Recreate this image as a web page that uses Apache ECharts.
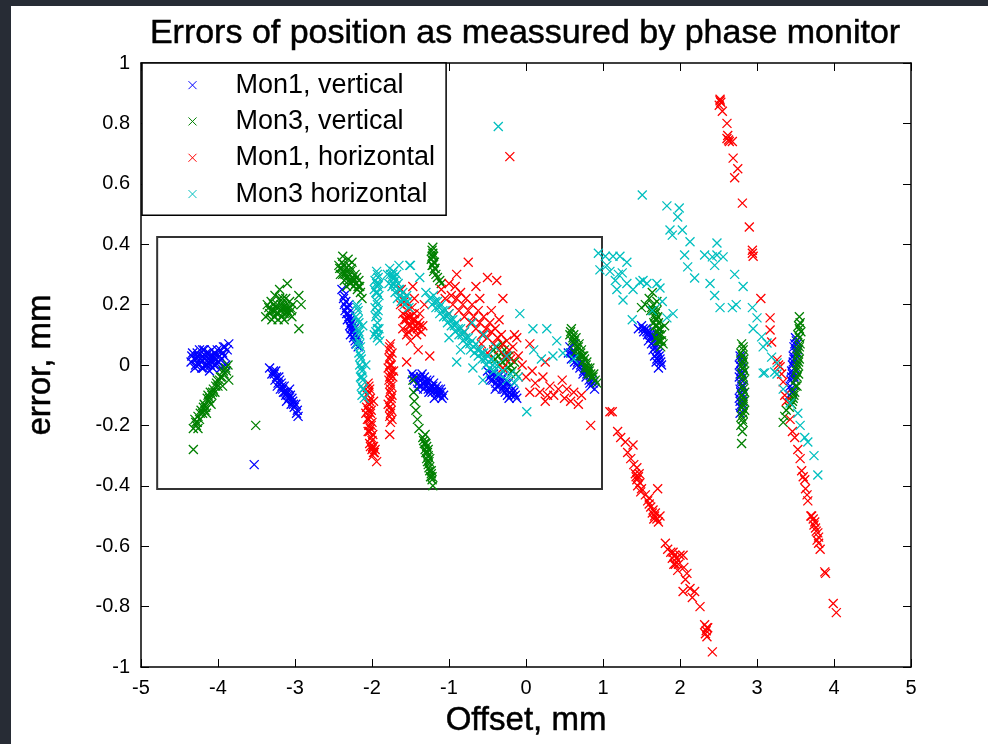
<!DOCTYPE html>
<html>
<head>
<meta charset="utf-8">
<script src="https://cdn.jsdelivr.net/npm/echarts@6/dist/echarts.min.js"></script>
<style>
html,body{margin:0;padding:0;background:#fff;}
#chart{width:988px;height:744px;}
</style>
</head>
<body>
<div id="chart"></div>
<script>
const titleText = 'Errors of position as meassured by phase monitor';
const xLabel = 'Offset, mm';
const yLabel = 'error, mm';
const seriesNames = ['Mon1, vertical', 'Mon3, vertical', 'Mon1, horizontal', 'Mon3 horizontal'];
const seriesColors = ['#0000ff', '#008000', '#ff0000', '#00bfbf'];
const xRange = [-5, 5];
const yRange = [-1, 1];
const insetBox = [[-4.79, 0.424], [0.987, -0.411]];

const mon1Vertical = [
[-4.35,0.01],[-4.33,0.04],[-4.3,-0.01],[-4.28,0.02],[-4.26,0.03],[-4.25,0.0],[-4.22,0.01],[-4.2,0.03],[-4.19,-0.01],[-4.17,0.02],[-4.15,0.04],[-4.14,0.0],[-4.12,0.02],[-4.1,0.03],[-4.09,0.01],[-4.07,-0.01],[-4.05,0.02],[-4.04,0.04],[-4.02,0.03],[-4.0,0.01],[-3.98,0.03],[-3.97,0.05],[-3.95,0.02],[-3.93,0.06],[-3.92,0.03],[-3.9,0.0],[-3.88,0.05],[-3.86,0.07],[-4.08,0.05],[-4.18,0.05],[-4.24,0.05],[-4.11,-0.02],[-4.03,0.0],[-3.96,-0.01],[-4.31,0.02],[-4.13,0.01],[-4.06,0.03],
[-4.34,0.03],[-4.29,0.0],[-4.27,0.04],[-4.23,0.02],[-4.21,-0.01],[-4.16,0.0],[-4.16,0.03],[-4.12,0.04],[-4.1,0.0],[-4.08,0.02],[-4.05,0.0],[-4.01,0.05],[-3.99,0.01],[-3.94,0.04],[-3.91,0.06],[-4.2,0.05],
[-3.33,-0.01],[-3.3,-0.03],[-3.28,-0.02],[-3.26,-0.05],[-3.24,-0.04],[-3.22,-0.06],[-3.2,-0.05],[-3.19,-0.08],[-3.17,-0.07],[-3.15,-0.09],[-3.14,-0.07],[-3.12,-0.1],[-3.1,-0.09],[-3.08,-0.11],[-3.06,-0.1],[-3.05,-0.13],[-3.03,-0.12],[-3.01,-0.14],[-2.99,-0.13],[-2.97,-0.15],[-2.96,-0.17],[-3.18,-0.06],[-3.11,-0.12],[-3.23,-0.07],[-3.07,-0.08],
[-3.27,-0.03],[-3.21,-0.04],[-3.16,-0.08],[-3.13,-0.09],[-3.09,-0.1],[-3.04,-0.11],[-3.02,-0.13],[-2.98,-0.16],[-3.25,-0.02],
[-3.53,-0.33],
[-2.39,0.25],[-2.37,0.22],[-2.36,0.2],[-2.34,0.21],[-2.35,0.18],[-2.33,0.17],[-2.31,0.19],[-2.32,0.15],[-2.3,0.16],[-2.29,0.13],[-2.28,0.15],[-2.27,0.12],[-2.26,0.14],[-2.25,0.11],[-2.24,0.09],[-2.23,0.12],[-2.22,0.08],[-2.21,0.1],[-2.2,0.07],[-2.19,0.09],[-2.18,0.06],[-2.28,0.1],
[-2.36,0.23],[-2.33,0.19],[-2.31,0.17],[-2.29,0.16],[-2.27,0.14],[-2.25,0.13],[-2.23,0.1],[-2.21,0.07],[-2.3,0.2],
[-1.48,-0.03],[-1.45,-0.05],[-1.42,-0.04],[-1.4,-0.06],[-1.38,-0.05],[-1.36,-0.07],[-1.34,-0.06],[-1.32,-0.04],[-1.3,-0.07],[-1.28,-0.06],[-1.27,-0.08],[-1.25,-0.05],[-1.23,-0.07],[-1.22,-0.09],[-1.2,-0.06],[-1.18,-0.08],[-1.16,-0.07],[-1.15,-0.1],[-1.13,-0.09],[-1.11,-0.08],[-1.09,-0.11],[-1.07,-0.1],[-1.19,-0.11],[-1.35,-0.03],[-1.26,-0.09],[-1.41,-0.08],
[-1.46,-0.04],[-1.39,-0.07],[-1.33,-0.08],[-1.29,-0.05],[-1.24,-0.08],[-1.21,-0.07],[-1.17,-0.09],[-1.14,-0.08],[-1.12,-0.1],[-1.1,-0.09],[-1.31,-0.06],[-1.37,-0.04],
[-0.5,-0.02],[-0.47,-0.04],[-0.45,-0.03],[-0.43,-0.05],[-0.41,-0.04],[-0.39,-0.06],[-0.37,-0.05],[-0.35,-0.07],[-0.33,-0.06],[-0.31,-0.08],[-0.29,-0.07],[-0.27,-0.09],[-0.25,-0.08],[-0.23,-0.06],[-0.21,-0.09],[-0.19,-0.1],[-0.17,-0.08],[-0.14,-0.1],[-0.12,-0.11],[-0.4,-0.08],[-0.3,-0.04],[-0.22,-0.11],
[-0.46,-0.05],[-0.42,-0.03],[-0.38,-0.07],[-0.36,-0.04],[-0.32,-0.05],[-0.28,-0.08],[-0.26,-0.06],[-0.24,-0.1],[-0.2,-0.07],[-0.16,-0.09],
[0.55,0.04],[0.57,0.06],[0.59,0.02],[0.61,0.04],[0.63,0.01],[0.65,0.03],[0.66,0.0],[0.68,0.02],[0.7,-0.01],[0.72,0.01],[0.74,-0.03],[0.76,-0.01],[0.78,-0.04],[0.8,-0.02],[0.82,-0.05],[0.84,-0.07],[0.87,-0.06],[0.89,-0.08],[0.62,0.07],
[0.58,0.04],[0.64,0.03],[0.67,0.01],[0.71,0.0],[0.75,-0.02],[0.79,-0.03],[0.83,-0.06],[0.86,-0.05],
[1.46,0.12],[1.5,0.13],[1.53,0.11],[1.56,0.12],[1.58,0.1],[1.6,0.11],[1.62,0.09],[1.64,0.1],[1.63,0.07],[1.66,0.08],[1.68,0.06],[1.65,0.05],[1.7,0.07],[1.67,0.03],[1.72,0.04],[1.69,0.01],[1.74,0.02],[1.76,0.0],[1.59,0.08],[1.71,0.1],
[1.52,0.12],[1.57,0.11],[1.61,0.1],[1.65,0.09],[1.67,0.07],[1.7,0.05],[1.73,0.03],[1.7,0.02],[1.75,0.01],[1.72,-0.01],
[2.78,0.03],[2.8,0.01],[2.77,0.0],[2.79,-0.02],[2.81,-0.03],[2.77,-0.04],[2.79,-0.06],[2.82,-0.07],[2.78,-0.08],[2.8,-0.1],[2.77,-0.11],[2.81,-0.12],[2.79,-0.14],[2.78,-0.16],[2.8,-0.05],
[2.79,0.02],[2.81,-0.01],[2.78,-0.03],[2.8,-0.07],[2.79,-0.09],[2.81,-0.1],[2.78,-0.12],[2.8,-0.13],
[3.5,0.09],[3.52,0.07],[3.48,0.06],[3.51,0.04],[3.47,0.03],[3.5,0.02],[3.46,0.0],[3.49,-0.01],[3.45,-0.02],[3.48,-0.04],[3.44,-0.05],[3.47,-0.06],[3.43,-0.07],[3.46,-0.09],[3.42,-0.1],[3.53,0.05],
[3.49,0.07],[3.5,0.05],[3.48,0.02],[3.47,0.01],[3.46,-0.03],[3.45,-0.04],[3.44,-0.08],[3.51,0.08]
];

const mon3Vertical = [
[-4.32,-0.21],[-4.3,-0.18],[-4.28,-0.2],[-4.26,-0.17],[-4.24,-0.18],[-4.22,-0.15],[-4.2,-0.16],[-4.18,-0.13],[-4.16,-0.14],[-4.14,-0.11],[-4.12,-0.12],[-4.1,-0.09],[-4.08,-0.1],[-4.06,-0.08],[-4.04,-0.09],[-4.02,-0.06],[-4.0,-0.07],[-3.98,-0.05],[-3.95,-0.04],[-3.92,-0.03],[-3.89,-0.02],[-3.87,0.0],[-3.86,-0.05],[-4.15,-0.16],[-4.26,-0.21],[-4.09,-0.13],[-3.94,-0.07],
[-4.29,-0.19],[-4.27,-0.19],[-4.23,-0.16],[-4.19,-0.14],[-4.17,-0.15],[-4.13,-0.1],[-4.11,-0.11],[-4.07,-0.09],[-4.03,-0.07],[-4.01,-0.05],[-3.97,-0.04],[-3.93,-0.02],[-3.9,-0.01],
[-4.32,-0.28],[-3.51,-0.2],
[-3.36,0.2],[-3.33,0.17],[-3.31,0.21],[-3.29,0.18],[-3.27,0.16],[-3.25,0.19],[-3.23,0.2],[-3.21,0.17],[-3.19,0.18],[-3.17,0.16],[-3.15,0.2],[-3.13,0.18],[-3.11,0.17],[-3.09,0.19],[-3.07,0.21],[-3.05,0.18],[-3.03,0.2],[-3.2,0.22],[-3.26,0.23],[-3.12,0.22],[-3.3,0.15],[-3.14,0.15],[-3.1,0.27],[-3.2,0.25],[-2.95,0.23],[-2.92,0.2],[-2.95,0.12],[-3.38,0.16],
[-3.34,0.19],[-3.32,0.18],[-3.28,0.2],[-3.26,0.18],[-3.24,0.17],[-3.22,0.19],[-3.18,0.2],[-3.16,0.19],[-3.14,0.17],[-3.12,0.19],[-3.1,0.18],[-3.08,0.17],[-3.06,0.19],[-3.04,0.16],[-3.22,0.15],[-3.16,0.22],
[-2.43,0.33],[-2.41,0.3],[-2.39,0.34],[-2.37,0.31],[-2.36,0.28],[-2.34,0.32],[-2.32,0.29],[-2.31,0.35],[-2.29,0.3],[-2.28,0.27],[-2.27,0.32],[-2.25,0.29],[-2.24,0.26],[-2.22,0.3],[-2.21,0.27],[-2.19,0.25],[-2.17,0.28],[-2.15,0.24],[-2.13,0.22],[-2.33,0.26],[-2.38,0.36],[-2.26,0.34],
[-2.42,0.32],[-2.4,0.32],[-2.38,0.3],[-2.36,0.33],[-2.35,0.3],[-2.33,0.31],[-2.3,0.28],[-2.28,0.31],[-2.26,0.28],[-2.23,0.28],[-2.2,0.29],[-2.18,0.26],[-2.16,0.26],[-2.3,0.33],
[-1.22,0.38],[-1.2,0.36],[-1.23,0.35],[-1.21,0.33],[-1.19,0.34],[-1.2,0.31],[-1.18,0.32],[-1.17,0.3],[-1.15,0.29],[-1.12,0.28],[-1.1,0.27],[-1.21,0.39],
[-1.22,0.36],[-1.21,0.37],[-1.2,0.34],[-1.19,0.32],[-1.22,0.33],
[-1.47,-0.05],[-1.46,-0.09],[-1.45,-0.12],[-1.43,-0.15],[-1.41,-0.18],[-1.39,-0.21],[-1.34,-0.24],[-1.31,-0.23],[-1.32,-0.26],[-1.29,-0.27],[-1.3,-0.29],[-1.27,-0.3],[-1.28,-0.32],[-1.25,-0.31],[-1.26,-0.34],[-1.23,-0.35],[-1.24,-0.37],[-1.22,-0.38],[-1.21,-0.4],[-1.27,-0.28],
[-1.33,-0.25],[-1.3,-0.26],[-1.31,-0.28],[-1.28,-0.29],[-1.29,-0.31],[-1.26,-0.32],[-1.27,-0.33],[-1.25,-0.35],[-1.23,-0.36],[-1.22,-0.37],
[-0.42,0.05],[-0.4,0.02],[-0.38,0.06],[-0.36,0.03],[-0.34,0.0],[-0.32,0.04],[-0.3,0.01],[-0.28,0.05],[-0.26,0.02],[-0.24,-0.01],[-0.22,0.03],[-0.2,0.0],[-0.18,-0.02],[-0.15,0.01],[-0.13,-0.03],[-0.31,0.07],
[0.57,0.1],[0.59,0.12],[0.6,0.08],[0.62,0.1],[0.64,0.07],[0.65,0.09],[0.67,0.05],[0.69,0.07],[0.7,0.03],[0.72,0.05],[0.74,0.01],[0.75,0.03],[0.77,-0.01],[0.79,0.01],[0.81,-0.03],[0.83,-0.01],[0.85,-0.04],[0.88,-0.03],[0.9,-0.05],[0.92,-0.06],[0.63,0.04],
[0.58,0.11],[0.61,0.09],[0.63,0.08],[0.66,0.06],[0.68,0.06],[0.71,0.04],[0.73,0.03],[0.76,0.02],[0.78,0.0],[0.8,-0.01],[0.82,-0.02],[0.84,-0.03],[0.87,-0.04],
[1.5,0.19],[1.55,0.2],[1.6,0.22],[1.62,0.18],[1.65,0.2],[1.67,0.16],[1.7,0.18],[1.72,0.14],[1.68,0.13],[1.71,0.11],[1.74,0.12],[1.69,0.09],[1.73,0.08],[1.76,0.1],[1.75,0.06],[1.78,0.07],[1.66,0.14],[1.64,0.24],[1.8,0.13],[1.7,0.21],
[1.63,0.19],[1.66,0.18],[1.68,0.17],[1.69,0.15],[1.71,0.16],[1.7,0.13],[1.72,0.12],[1.73,0.1],[1.74,0.08],[1.71,0.08],[1.76,0.08],
[2.8,0.07],[2.82,0.05],[2.79,0.04],[2.83,0.02],[2.81,0.0],[2.84,-0.02],[2.8,-0.03],[2.83,-0.05],[2.81,-0.07],[2.84,-0.09],[2.8,-0.1],[2.83,-0.12],[2.81,-0.14],[2.84,-0.15],[2.8,-0.17],[2.82,-0.19],[2.79,-0.2],[2.81,-0.22],[2.8,-0.26],
[2.82,0.06],[2.81,0.03],[2.82,0.01],[2.82,-0.01],[2.82,-0.04],[2.82,-0.08],[2.82,-0.11],[2.82,-0.13],[2.82,-0.16],[2.81,-0.18],
[3.55,0.16],[3.56,0.14],[3.54,0.13],[3.57,0.11],[3.55,0.09],[3.53,0.1],[3.56,0.07],[3.54,0.05],[3.52,0.03],[3.55,0.02],[3.53,0.0],[3.51,-0.02],[3.54,-0.03],[3.5,-0.05],[3.52,-0.07],[3.49,-0.09],[3.47,-0.11],[3.45,-0.13],[3.42,-0.14],[3.38,-0.15],[3.36,-0.17],[3.34,-0.19],
[3.55,0.12],[3.55,0.06],[3.53,0.04],[3.54,0.01],[3.52,-0.01],[3.52,-0.04],[3.5,-0.07],[3.48,-0.1],[3.46,-0.12]
];

const mon1Horizontal = [
[-2.05,-0.06],[-2.03,-0.08],[-2.06,-0.1],[-2.02,-0.11],[-2.04,-0.13],[-2.07,-0.14],[-2.01,-0.15],[-2.03,-0.17],[-2.06,-0.18],[-2.0,-0.19],[-2.02,-0.21],[-2.05,-0.22],[-1.99,-0.23],[-2.01,-0.24],[-2.03,-0.26],[-1.98,-0.27],[-2.0,-0.28],[-1.97,-0.29],[-1.99,-0.3],[-1.96,-0.28],[-2.08,-0.16],[-1.98,-0.12],[-2.04,-0.2],[-1.94,-0.32],
[-2.04,-0.07],[-2.04,-0.09],[-2.03,-0.12],[-2.05,-0.15],[-2.02,-0.16],[-2.04,-0.18],[-2.01,-0.2],[-2.03,-0.22],[-2.0,-0.25],[-2.02,-0.27],[-1.99,-0.27],[-1.98,-0.29],
[-1.76,0.07],[-1.78,0.05],[-1.74,0.04],[-1.77,0.02],[-1.75,0.0],[-1.79,-0.01],[-1.76,-0.03],[-1.73,-0.04],[-1.78,-0.05],[-1.75,-0.07],[-1.77,-0.09],[-1.74,-0.1],[-1.76,-0.12],[-1.79,-0.13],[-1.75,-0.15],[-1.77,-0.17],[-1.74,-0.18],[-1.76,-0.19],[-1.72,-0.02],[-1.77,-0.23],
[-1.77,0.06],[-1.76,0.03],[-1.77,0.0],[-1.75,-0.02],[-1.77,-0.04],[-1.76,-0.06],[-1.76,-0.08],[-1.75,-0.11],[-1.77,-0.14],[-1.76,-0.16],
[-1.63,0.2],[-1.6,0.17],[-1.58,0.21],[-1.56,0.15],[-1.54,0.18],[-1.52,0.13],[-1.5,0.16],[-1.48,0.19],[-1.46,0.12],[-1.44,0.15],[-1.42,0.1],[-1.4,0.14],[-1.38,0.17],[-1.36,0.11],[-1.34,0.13],[-1.55,0.1],[-1.6,0.12],[-1.5,0.08],[-1.45,0.22],[-1.62,0.25],[-1.4,0.05],[-1.25,0.03],[-1.55,0.01],[-1.47,0.26],[-1.32,0.2],
[-1.58,0.15],[-1.55,0.16],[-1.52,0.16],[-1.5,0.13],[-1.47,0.15],[-1.45,0.17],[-1.43,0.13],[-1.41,0.12],[-1.38,0.13],[-1.53,0.11],
[-1.1,0.25],[-1.05,0.22],[-1.0,0.27],[-0.97,0.23],[-0.95,0.2],[-0.92,0.26],[-0.9,0.22],[-0.87,0.18],[-0.85,0.24],[-0.82,0.2],[-0.8,0.16],[-0.78,0.22],[-0.75,0.18],[-0.72,0.14],[-0.7,0.2],[-0.68,0.16],[-0.65,0.12],[-0.62,0.18],[-0.6,0.14],[-0.57,0.1],[-0.55,0.16],[-0.52,0.12],[-0.5,0.09],[-0.47,0.14],[-0.45,0.11],[-0.42,0.07],[-0.4,0.12],[-0.37,0.09],[-0.35,0.05],[-0.32,0.1],[-0.3,0.07],[-0.27,0.03],[-0.25,0.08],[-0.22,0.05],[-0.2,0.02],[-0.17,0.06],[-0.6,0.22],[-0.45,0.18],[-0.35,0.15],[-0.5,0.04],[-0.3,-0.01],[-0.15,0.1],[-0.1,0.03],[-0.9,0.3],[-0.75,0.34],[-0.5,0.29],[-0.38,0.28],[-0.3,0.22],[-0.65,0.26],[-0.58,0.07],[-0.8,0.11],[-1.0,0.17],
[-0.05,0.0],[0.0,-0.04],[0.05,-0.09],[0.08,-0.02],[0.12,-0.06],[0.18,-0.09],[0.22,-0.04],[0.28,-0.1],[0.31,-0.07],[0.36,-0.1],[0.42,-0.08],[0.47,-0.05],[0.53,-0.08],[0.58,-0.12],[0.62,-0.09],[0.68,-0.13],[0.72,-0.1],[0.25,-0.12],[0.5,-0.11],[0.05,0.07],[0.25,0.01],[-0.12,0.09],
[-0.21,0.69],[1.09,-0.155],[0.84,-0.2],
[1.12,-0.155],[1.19,-0.22],[1.23,-0.24],[1.29,-0.255],[1.39,-0.265],[1.32,-0.29],[1.36,-0.31],[1.4,-0.33],[1.44,-0.34],[1.42,-0.36],[1.46,-0.37],[1.48,-0.39],[1.45,-0.4],[1.5,-0.41],[1.71,-0.41],[1.55,-0.43],[1.58,-0.45],[1.6,-0.44],[1.62,-0.47],[1.65,-0.48],[1.68,-0.49],[1.66,-0.51],[1.72,-0.52],[1.74,-0.5],[1.81,-0.59],[1.84,-0.61],[1.88,-0.62],[1.9,-0.64],[1.93,-0.63],[2.0,-0.63],[2.04,-0.63],[1.94,-0.66],[1.97,-0.68],[2.05,-0.67],[2.09,-0.69],[2.07,-0.71],[2.04,-0.75],[2.13,-0.74],[2.19,-0.75],[2.16,-0.77],[2.26,-0.8],[2.32,-0.86],[2.34,-0.88],[2.36,-0.87],[2.35,-0.9],[2.42,-0.95],
[1.43,-0.37],[1.47,-0.36],[1.44,-0.38],[1.49,-0.42],[1.6,-0.46],[1.64,-0.49],[1.67,-0.5],[1.7,-0.51],[1.91,-0.62],[1.95,-0.64],[1.92,-0.66],[1.98,-0.66],[2.35,-0.87],[2.33,-0.89],
[2.52,0.88],[2.53,0.87],[2.51,0.86],[2.55,0.84],[2.61,0.8],[2.61,0.75],[2.64,0.74],[2.68,0.74],[2.69,0.685],[2.75,0.65],[2.71,0.62],[2.81,0.536],[2.9,0.457],[2.94,0.37],[2.95,0.36],[3.05,0.22],[3.17,0.156],[3.17,0.116],[3.19,0.076],[3.26,0.017],[3.28,0.0],[3.3,-0.006],[3.32,-0.03],[3.34,-0.056],[3.36,-0.1],[3.38,-0.12],[3.43,-0.18],[3.46,-0.22],[3.49,-0.24],[3.53,-0.28],[3.56,-0.31],[3.58,-0.35],[3.6,-0.37],[3.62,-0.38],[3.63,-0.41],[3.65,-0.43],[3.66,-0.45],[3.7,-0.5],[3.73,-0.51],[3.75,-0.52],[3.76,-0.54],[3.79,-0.556],[3.78,-0.58],[3.8,-0.59],[3.82,-0.61],[3.88,-0.685],[3.89,-0.69],[3.99,-0.79],[4.03,-0.82],
[2.52,0.875],[2.63,0.745],[2.62,0.76],[2.94,0.38],[3.71,-0.5],[3.74,-0.53],[3.77,-0.55],[3.8,-0.57]
];

const mon3Horizontal = [
[-0.36,0.79],
[-2.2,0.2],[-2.18,0.18],[-2.21,0.16],[-2.17,0.14],[-2.19,0.12],[-2.16,0.1],[-2.18,0.08],[-2.15,0.06],[-2.17,0.04],[-2.14,0.02],[-2.16,0.0],[-2.13,-0.02],[-2.15,-0.04],[-2.12,-0.05],[-2.14,-0.07],[-2.11,-0.08],[-2.13,-0.1],[-2.1,-0.11],[-2.2,0.07],[-2.12,0.13],[-2.08,0.0],
[-2.19,0.19],[-2.18,0.15],[-2.17,0.11],[-2.16,0.07],[-2.15,0.03],[-2.14,-0.01],[-2.13,-0.04],[-2.12,-0.08],
[-1.94,0.31],[-1.92,0.29],[-1.96,0.28],[-1.93,0.26],[-1.95,0.24],[-1.91,0.23],[-1.94,0.21],[-1.96,0.19],[-1.92,0.18],[-1.95,0.16],[-1.93,0.14],[-1.91,0.12],[-1.95,0.11],[-1.93,0.09],[-1.97,0.1],[-1.9,0.08],[-1.97,0.25],[-1.91,0.27],
[-1.93,0.3],[-1.94,0.27],[-1.93,0.24],[-1.93,0.2],[-1.94,0.17],[-1.93,0.12],[-1.92,0.1],
[-1.8,0.3],[-1.77,0.32],[-1.74,0.29],[-1.72,0.31],[-1.7,0.28],[-1.68,0.3],[-1.66,0.27],[-1.74,0.26],[-1.7,0.24],[-1.67,0.22],[-1.64,0.25],[-1.62,0.21],[-1.6,0.24],[-1.58,0.2],[-1.55,0.23],[-1.52,0.19],[-1.5,0.33],[-1.38,0.29],[-1.78,0.27],[-1.65,0.33],
[-1.76,0.3],[-1.73,0.3],[-1.71,0.29],[-1.69,0.26],[-1.72,0.27],[-1.65,0.25],[-1.63,0.23],[-1.6,0.22],[-1.57,0.22],[-1.54,0.21],
[-1.3,0.24],[-1.25,0.22],[-1.22,0.2],[-1.2,0.23],[-1.17,0.19],[-1.15,0.21],[-1.12,0.17],[-1.1,0.2],[-1.07,0.16],[-1.05,0.18],[-1.02,0.14],[-1.0,0.17],[-0.97,0.13],[-0.95,0.15],[-0.92,0.11],[-0.9,0.14],[-0.87,0.1],[-0.85,0.12],[-0.82,0.08],[-0.8,0.11],[-0.77,0.07],[-0.75,0.09],[-0.72,0.05],[-0.7,0.08],[-0.67,0.04],[-0.65,0.07],[-0.62,0.03],[-0.6,0.05],[-0.57,0.02],[-0.55,0.04],[-0.52,0.0],[-0.5,0.03],[-0.47,-0.01],[-0.45,0.02],[-0.42,-0.02],[-0.38,0.0],[-0.35,-0.03],[-0.3,-0.02],[-0.25,-0.05],[-0.2,-0.03],[-0.15,-0.06],[-0.1,-0.04],[-1.0,0.09],[-0.85,0.05],[-0.7,0.14],[-0.55,0.1],[-0.4,0.06],[-0.25,0.03],
[-1.18,0.21],[-1.13,0.19],[-1.08,0.18],[-1.03,0.16],[-0.98,0.15],[-0.93,0.13],[-0.88,0.12],[-0.83,0.1],[-0.78,0.09],[-0.73,0.07],[-0.68,0.06],[-0.63,0.05],[-0.58,0.04],[-0.53,0.02],[-0.48,0.01],[-0.43,0.0],
[-0.08,0.17],[0.09,0.12],[0.27,0.12],[0.48,0.04],[0.01,-0.155],[-0.9,0.01],[-0.69,-0.01],[-0.56,-0.05],[-1.51,0.33],[0.1,0.05],[0.2,0.02],[0.35,0.03],[0.62,0.02],[0.4,0.08],
[0.94,0.37],[1.03,0.36],[1.13,0.36],[1.22,0.36],[1.31,0.34],[0.96,0.315],[1.09,0.31],[1.25,0.305],[1.16,0.28],[1.31,0.27],[1.18,0.25],[1.26,0.215],[1.39,0.25],[1.48,0.275],[1.57,0.27],[1.7,0.27],[1.74,0.255],[1.77,0.21],[1.64,0.18],[1.83,0.156],[1.91,0.17],[1.38,0.15],[1.52,0.28],[1.2,0.3],[1.05,0.33],
[1.51,0.563],[1.83,0.527],[1.99,0.52],[1.97,0.49],[1.87,0.447],[1.9,0.43],[2.03,0.447],[2.13,0.408],[2.06,0.364],[2.1,0.325],[2.19,0.288],[2.32,0.364],[2.42,0.358],[2.48,0.364],[2.56,0.358],[2.48,0.404],[2.45,0.33],[2.39,0.27],[2.45,0.23],[2.71,0.3],[2.82,0.26],[2.52,0.19],[2.68,0.19],[2.73,0.2],[2.94,0.19],[3.0,0.156],[2.95,0.12],[3.06,0.093],[3.13,0.073],[3.08,0.06],[3.19,0.026],[3.26,0.007],[3.1,-0.026],[3.23,-0.023],
[3.08,-0.027],[3.26,-0.03],[3.34,-0.08],[3.43,-0.126],[3.53,-0.16],[3.56,-0.2],[3.62,-0.24],[3.66,-0.255],[3.74,-0.3],[3.79,-0.364]
];

const xMark = 'path://M0,0L10,10M10,0L0,10';
const allData = [mon1Vertical, mon3Vertical, mon1Horizontal, mon3Horizontal];

const chart = echarts.init(document.getElementById('chart'), null, {renderer: 'canvas'});

const axisCommon = {
  type: 'value',
  splitLine: {show: false},
  axisLine: {show: true, onZero: false, lineStyle: {color: '#000', width: 1.5}},
  axisTick: {show: true, inside: true, length: 8, lineStyle: {color: '#000', width: 1}},
  axisLabel: {color: '#000', fontFamily: 'Liberation Sans', fontSize: 20}
};

const heavyText = {textBorderColor: '#000', textBorderWidth: 0.5};

const series = allData.map((d, i) => ({
  name: seriesNames[i],
  type: 'scatter',
  data: d,
  symbol: xMark,
  symbolSize: 9,
  itemStyle: {color: seriesColors[i], borderColor: seriesColors[i], borderWidth: 1.3, opacity: 1},
  emphasis: {disabled: true},
  animation: false
}));

series[0].markArea = {
  silent: true,
  itemStyle: {color: 'rgba(0,0,0,0)', borderColor: '#333', borderWidth: 2},
  data: [[{coord: insetBox[0]}, {coord: insetBox[1]}]]
};

chart.setOption({
  backgroundColor: '#fff',
  animation: false,
  title: {
    text: titleText,
    left: 525, top: 17, textAlign: 'center', padding: 0,
    textStyle: Object.assign({fontFamily: 'Liberation Sans', fontSize: 34, fontWeight: 'normal', color: '#000'}, heavyText)
  },
  grid: {left: 141, top: 63, width: 770, height: 604, containLabel: false},
  legend: {
    orient: 'vertical',
    left: 142, top: 63,
    data: seriesNames,
    backgroundColor: '#fff',
    borderColor: '#000', borderWidth: 1.5,
    padding: [8, 11, 7, 46],
    itemGap: 8,
    itemWidth: 8, itemHeight: 8,
    itemStyle: {borderWidth: 1},
    textStyle: {fontFamily: 'Liberation Sans', fontSize: 27, lineHeight: 28.3, color: '#000', padding: [0, 0, 0, 34]},
    selectedMode: false
  },
  xAxis: [
    Object.assign({}, axisCommon, {
      min: xRange[0], max: xRange[1], interval: 1, position: 'bottom',
      name: xLabel, nameLocation: 'middle', nameGap: 37,
      nameTextStyle: Object.assign({fontFamily: 'Liberation Sans', fontSize: 33, color: '#000'}, heavyText),
      axisLabel: Object.assign({}, axisCommon.axisLabel, {margin: 11})
    }),
    Object.assign({}, axisCommon, {
      min: xRange[0], max: xRange[1], interval: 1, position: 'top',
      axisLabel: {show: false}
    })
  ],
  yAxis: [
    Object.assign({}, axisCommon, {
      min: yRange[0], max: yRange[1], interval: 0.2, position: 'left',
      name: yLabel, nameLocation: 'middle', nameGap: 84, nameRotate: 90,
      nameTextStyle: Object.assign({fontFamily: 'Liberation Sans', fontSize: 33, color: '#000'}, heavyText),
      axisLabel: Object.assign({}, axisCommon.axisLabel, {margin: 11})
    }),
    Object.assign({}, axisCommon, {
      min: yRange[0], max: yRange[1], interval: 0.2, position: 'right',
      axisLabel: {show: false}
    })
  ],
  graphic: [
    {type: 'rect', left: 0, top: 0, shape: {width: 988, height: 6}, style: {fill: '#272c35'}, z: 100},
    {type: 'rect', left: 0, top: 0, shape: {width: 11, height: 744}, style: {fill: '#272c35'}, z: 100}
  ],
  series: series
});
</script>
</body>
</html>
